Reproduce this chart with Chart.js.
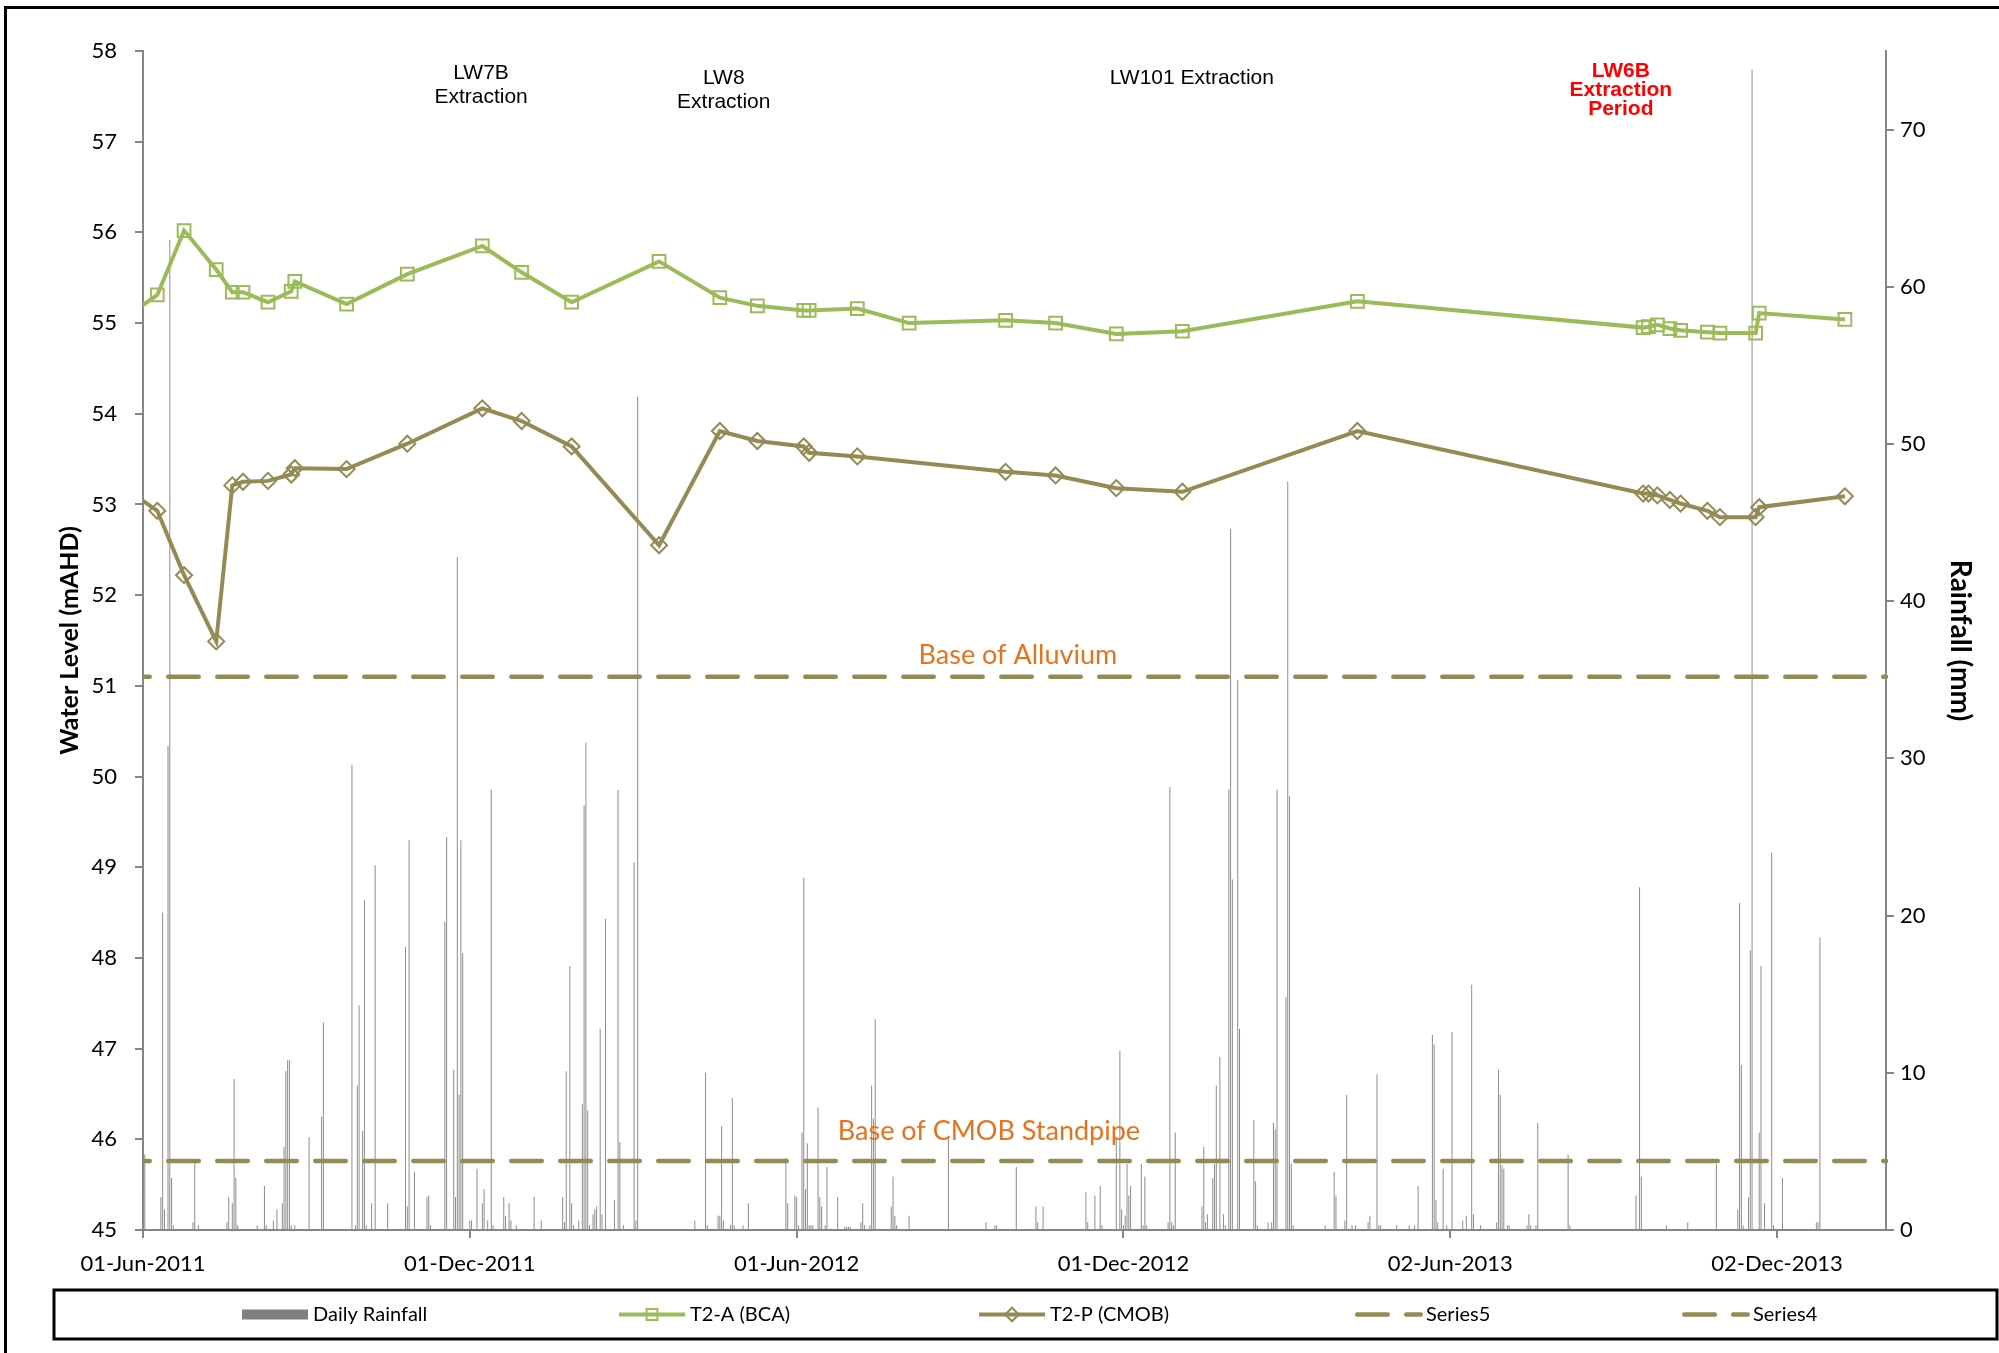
<!DOCTYPE html>
<html>
<head>
<meta charset="utf-8">
<title>T2 groundwater levels and daily rainfall</title>
<script src="https://cdn.jsdelivr.net/npm/chart.js@4.4.1/dist/chart.umd.min.js"></script>
<style>
  html, body { margin: 0; padding: 0; background: #ffffff; }
  #wrap { position: relative; width: 1999px; height: 1353px; overflow: hidden; background: #ffffff; }
  canvas { display: block; }
</style>
</head>
<body>
<div id="wrap"><canvas id="chart" width="1999" height="1353"></canvas></div>
<script>
// ---------------- data ----------------
const recordStart = '2011-06-01';   // day 0 of the rainfall record / x axis origin
const axisEnd = '2014-02-01';

const tickLabels = ['01-Jun-2011', '01-Dec-2011', '01-Jun-2012', '01-Dec-2012', '02-Jun-2013', '02-Dec-2013'];

// T2-A (BCA) water levels, mAHD
const datesBCA = ['2011-05-24', '2011-06-09', '2011-06-24', '2011-07-12', '2011-07-21', '2011-07-27',
  '2011-08-10', '2011-08-23', '2011-08-25', '2011-09-23', '2011-10-27', '2011-12-08', '2011-12-30',
  '2012-01-27', '2012-03-16', '2012-04-19', '2012-05-10', '2012-06-05', '2012-06-08', '2012-07-05',
  '2012-08-03', '2012-09-26', '2012-10-24', '2012-11-27', '2013-01-03', '2013-04-11', '2013-09-18',
  '2013-09-21', '2013-09-26', '2013-10-03', '2013-10-09', '2013-10-24', '2013-10-31', '2013-11-20',
  '2013-11-22', '2014-01-09'];
const levelBCA = [55.09, 55.31, 56.02, 55.59, 55.34, 55.34,
  55.23, 55.35, 55.46, 55.21, 55.54, 55.85, 55.56,
  55.23, 55.68, 55.28, 55.19, 55.14, 55.14, 55.16,
  55.00, 55.03, 55.00, 54.88, 54.91, 55.24, 54.95,
  54.96, 54.98, 54.94, 54.92, 54.90, 54.89, 54.89,
  55.11, 55.04];

// T2-P (CMOB) water levels, mAHD
const datesCMOB = ['2011-05-24', '2011-06-09', '2011-06-24', '2011-07-12', '2011-07-21', '2011-07-27',
  '2011-08-10', '2011-08-23', '2011-08-25', '2011-09-23', '2011-10-27', '2011-12-08', '2011-12-30',
  '2012-01-27', '2012-03-16', '2012-04-19', '2012-05-10', '2012-06-05', '2012-06-08', '2012-07-05',
  '2012-09-26', '2012-10-24', '2012-11-27', '2013-01-03', '2013-04-11', '2013-09-18',
  '2013-09-21', '2013-09-26', '2013-10-03', '2013-10-09', '2013-10-24', '2013-10-31', '2013-11-20',
  '2013-11-22', '2014-01-09'];
const levelCMOB = [53.15, 52.93, 52.22, 51.49, 53.21, 53.25,
  53.26, 53.33, 53.40, 53.39, 53.67, 54.06, 53.92,
  53.64, 52.55, 53.81, 53.70, 53.64, 53.57, 53.53,
  53.36, 53.32, 53.18, 53.14, 53.81, 53.12,
  53.12, 53.10, 53.05, 53.01, 52.93, 52.86, 52.86,
  52.97, 53.09];

// reference elevations, mAHD
const baseOfAlluvium = 51.10;   // Series5
const baseOfStandpipe = 45.76;  // Series4

// daily rainfall: day number counted from recordStart, and depth in mm
const rainDay = [
  0, 1, 10, 11, 12, 14, 15, 16, 17, 28,
  29, 31, 47, 48, 50, 51, 52, 53, 64, 68,
  69, 73, 75, 78, 79, 80, 81, 82, 83, 85,
  93, 100, 101, 117, 119, 120, 121, 123, 124, 125,
  128, 130, 137, 147, 148, 149, 152, 159, 160, 161,
  169, 170, 174, 175, 176, 177, 178, 179, 183, 184,
  187, 190, 191, 193, 195, 196, 202, 203, 205, 206,
  209, 219, 223, 235, 236, 237, 239, 240, 241, 244,
  246, 247, 248, 249, 250, 252, 253, 254, 256, 257,
  259, 264, 266, 267, 269, 275, 276, 277, 309, 315,
  316, 322, 323, 324, 325, 329, 330, 331, 336, 339,
  360, 361, 365, 366, 367, 369, 370, 371, 372, 373,
  374, 375, 378, 379, 380, 382, 383, 389, 393, 394,
  395, 396, 402, 403, 404, 407, 408, 409, 410, 419,
  420, 421, 422, 429, 451, 472, 477, 478, 489, 500,
  501, 504, 528, 529, 533, 536, 537, 545, 547, 548,
  549, 550, 551, 552, 553, 559, 560, 561, 562, 574,
  575, 576, 577, 578, 593, 594, 595, 596, 599, 600,
  601, 603, 605, 606, 608, 609, 610, 613, 614, 622,
  623, 624, 630, 632, 633, 634, 635, 640, 641, 642,
  643, 644, 662, 667, 668, 673, 674, 677, 679, 686,
  687, 691, 692, 693, 702, 709, 712, 714, 722, 723,
  724, 725, 728, 730, 733, 739, 741, 744, 745, 749,
  758, 759, 760, 761, 762, 764, 765, 775, 776, 777,
  780, 781, 798, 799, 836, 838, 839, 853, 865, 881,
  893, 894, 895, 896, 899, 900, 901, 905, 906, 908,
  912, 913, 918, 937, 938, 939];
const rainMm = [
  2.4, 4.8, 2.1, 20.2, 1.3, 30.8, 63.0, 3.3, 0.3, 0.5,
  4.4, 0.3, 0.5, 2.1, 1.7, 9.6, 3.3, 0.3, 0.3, 2.8,
  0.3, 0.6, 1.3, 1.7, 5.3, 10.1, 10.8, 10.8, 0.3, 0.3,
  5.9, 7.2, 13.2, 29.6, 0.3, 9.2, 14.3, 6.3, 21.0, 0.3,
  1.7, 23.2, 1.7, 18.0, 1.5, 24.8, 3.7, 2.1, 2.2, 0.3,
  19.6, 25.0, 10.2, 2.1, 42.8, 8.6, 24.8, 17.6, 0.6, 0.6,
  3.9, 1.7, 2.6, 0.6, 28.0, 0.3, 2.1, 0.9, 1.7, 0.6,
  0.3, 2.1, 0.6, 2.1, 0.5, 10.1, 16.8, 1.7, 0.3, 0.6,
  8.0, 27.0, 31.0, 7.6, 0.3, 1.0, 1.3, 1.5, 12.8, 1.0,
  19.8, 1.9, 28.0, 5.6, 0.3, 23.4, 0.6, 53.0, 0.6, 10.0,
  0.3, 0.9, 0.9, 6.6, 0.6, 0.3, 8.4, 0.3, 0.3, 1.7,
  4.6, 1.7, 2.2, 2.1, 0.3, 6.2, 22.4, 2.6, 5.5, 0.3,
  0.3, 0.3, 7.8, 2.1, 1.5, 0.3, 4.0, 2.1, 0.2, 0.2,
  0.2, 0.2, 0.5, 1.7, 0.3, 0.3, 9.2, 7.1, 13.4, 1.5,
  3.4, 0.9, 0.3, 0.9, 6.0, 0.5, 0.3, 0.3, 4.0, 1.5,
  0.5, 1.5, 2.4, 0.5, 2.2, 2.8, 0.3, 5.9, 11.4, 1.3,
  0.3, 0.9, 4.2, 2.2, 2.8, 4.2, 0.3, 3.4, 0.3, 0.5,
  28.2, 0.5, 0.3, 6.2, 1.5, 5.3, 0.5, 1.0, 3.3, 4.2,
  9.2, 11.0, 1.0, 0.3, 28.0, 44.6, 22.3, 35.0, 12.8, 7.0,
  3.1, 0.3, 0.5, 0.5, 6.8, 6.4, 28.0, 14.8, 47.6, 27.6,
  4.2, 0.3, 0.3, 3.7, 2.2, 0.6, 8.6, 0.3, 0.3, 0.5,
  0.9, 9.9, 0.3, 0.3, 0.3, 0.3, 0.3, 2.8, 12.4, 11.8,
  1.9, 0.5, 3.9, 0.3, 12.6, 0.6, 0.9, 15.6, 1.0, 0.3,
  0.5, 10.2, 8.6, 4.1, 3.9, 0.3, 0.3, 0.3, 1.0, 0.3,
  0.3, 6.8, 4.8, 0.3, 2.2, 21.8, 3.4, 0.3, 0.5, 4.2,
  1.3, 20.8, 10.5, 0.3, 2.1, 17.8, 73.8, 6.2, 16.8, 1.7,
  24.0, 0.3, 3.3, 0.5, 0.5, 18.6];

// ---------------- helpers ----------------
const DAY_MS = 86400000;
const MONTHS = { Jan: 0, Feb: 1, Mar: 2, Apr: 3, May: 4, Jun: 5, Jul: 6, Aug: 7, Sep: 8, Oct: 9, Nov: 10, Dec: 11 };
function utcOfIso(iso) {
  const [y, m, d] = iso.split('-').map(Number);
  return Date.UTC(y, m - 1, d);
}
const originUtc = utcOfIso(recordStart);
const dayOf = iso => (utcOfIso(iso) - originUtc) / DAY_MS;
const dayOfLabel = lbl => {
  const [d, mon, y] = lbl.split('-');
  return (Date.UTC(+y, MONTHS[mon], +d) - originUtc) / DAY_MS;
};

const xMin = 0;
const xMax = dayOf(axisEnd);
const tickDays = tickLabels.map(dayOfLabel);

const GREEN = '#9BBB59';
const OLIVE = '#948A54';
const AXIS_GREY = '#868686';
const TICK_FONT = { family: 'Lato', size: 22 };

// ---------------- text notes and legend painter ----------------
const notes = [
  { lines: ['LW7B', 'Extraction'], day: 189.3, level: 57.69, step: 24, font: '21px "Liberation Sans"', color: '#000000' },
  { lines: ['LW8', 'Extraction'], day: 325.2, level: 57.636, step: 24, font: '21px "Liberation Sans"', color: '#000000' },
  { lines: ['LW101 Extraction'], day: 587.3, level: 57.636, step: 24, font: '21px "Liberation Sans"', color: '#000000' },
  { lines: ['LW6B', 'Extraction', 'Period'], day: 827.5, level: 57.713, step: 19, font: 'bold 21px "Liberation Sans"', color: '#FF0000' },
  { lines: ['Base of Alluvium'], day: 489.9, level: 51.24, step: 0, font: '27px Lato', color: '#E8721C' },
  { lines: ['Base of CMOB Standpipe'], day: 473.7, level: 45.99, step: 0, font: '27px Lato', color: '#E8721C' }
];
const leftAxisTitle = 'Water Level (mAHD)';

const decorPlugin = {
  id: 'decor',
  afterDraw(chart) {
    const { ctx, chartArea } = chart;
    const xs = chart.scales.x, ys = chart.scales.y;
    ctx.save();

    // page frame (left and top edges)
    ctx.strokeStyle = '#000000';
    ctx.lineWidth = 3;
    ctx.beginPath();
    ctx.moveTo(5.5, 1353);
    ctx.lineTo(5.5, 7.5);
    ctx.lineTo(1999, 7.5);
    ctx.stroke();

    // primary axis title, rotated, centred on the plot height
    ctx.save();
    ctx.translate(64, (chartArea.top + chartArea.bottom) / 2);
    ctx.rotate(-Math.PI / 2);
    ctx.font = 'bold 25px Lato';
    ctx.fillStyle = '#000000';
    ctx.textAlign = 'center';
    ctx.textBaseline = 'alphabetic';
    ctx.fillText(leftAxisTitle, 0, 14);
    ctx.restore();

    // text notes placed in data space
    ctx.textAlign = 'center';
    ctx.textBaseline = 'alphabetic';
    notes.forEach(n => {
      const px = xs.getPixelForValue(n.day);
      const py = ys.getPixelForValue(n.level);
      ctx.font = n.font;
      ctx.fillStyle = n.color;
      n.lines.forEach((t, i) => ctx.fillText(t, px, py + i * n.step));
    });

    // legend box
    const box = { left: 54, top: 1290, right: 1997, bottom: 1339 };
    const cy = (box.top + box.bottom) / 2;
    ctx.lineWidth = 3;
    ctx.strokeStyle = '#000000';
    ctx.strokeRect(box.left, box.top, box.right - box.left, box.bottom - box.top);

    const slots = [242, 619, 979, 1355, 1682];
    const symW = 68;
    ctx.font = '20px Lato';
    ctx.textAlign = 'left';
    ctx.textBaseline = 'middle';
    chart.data.datasets.forEach((ds, i) => {
      const x0 = slots[i];
      if (ds.type === 'bar') {
        ctx.fillStyle = '#808080';
        ctx.fillRect(x0, cy - 5, symW - 2, 10);
      } else {
        ctx.save();
        ctx.strokeStyle = ds.borderColor;
        ctx.lineWidth = ds.borderWidth;
        ctx.lineCap = ds.borderCapStyle || 'butt';
        const dashed = !!ds.borderDash;
        if (dashed) {
          ctx.setLineDash(ds.borderDash);
          ctx.lineDashOffset = 0;
        }
        ctx.beginPath();
        ctx.moveTo(x0 + (dashed ? 2.25 : 0), cy);
        ctx.lineTo(x0 + symW - (dashed ? 2.25 : 2), cy);
        ctx.stroke();
        ctx.restore();
        if (ds.pointRadius > 0) {
          ctx.save();
          ctx.strokeStyle = ds.pointBorderColor;
          ctx.lineWidth = ds.pointBorderWidth;
          ctx.beginPath();
          const r = ds.pointRadius * 0.85;
          const mx = x0 + symW / 2 - 1;
          if (ds.pointStyle === 'rect') {
            const h = r * Math.SQRT1_2;
            ctx.rect(mx - h, cy - h, 2 * h, 2 * h);
          } else {
            ctx.moveTo(mx - r, cy); ctx.lineTo(mx, cy - r); ctx.lineTo(mx + r, cy); ctx.lineTo(mx, cy + r); ctx.closePath();
          }
          ctx.stroke();
          ctx.restore();
        }
      }
      ctx.fillStyle = '#000000';
      ctx.fillText(ds.label, x0 + symW + 3, cy);
    });

    ctx.restore();
  }
};

// ---------------- chart ----------------
const rainPoints = rainDay.map((d, i) => ({ x: d, y: rainMm[i] }));
const bcaPoints = datesBCA.map((d, i) => ({ x: dayOf(d), y: levelBCA[i] }));
const cmobPoints = datesCMOB.map((d, i) => ({ x: dayOf(d), y: levelCMOB[i] }));
const levelLine = v => [{ x: xMin, y: v }, { x: xMax, y: v }];
const seriesClip = { left: 0, right: 20, top: 20, bottom: 20 };

Chart.defaults.color = '#000000';

new Chart(document.getElementById('chart'), {
  type: 'line',
  data: {
    datasets: [
      {
        type: 'bar', label: 'Daily Rainfall', data: rainPoints, yAxisID: 'y1',
        backgroundColor: '#8c8c8c', borderWidth: 0, barThickness: 1, inflateAmount: 0, order: 10
      },
      {
        label: 'T2-A (BCA)', data: bcaPoints, yAxisID: 'y',
        borderColor: GREEN, borderWidth: 4, tension: 0,
        pointStyle: 'rect', pointRadius: 9, pointBorderWidth: 2,
        pointBorderColor: GREEN, pointBackgroundColor: 'rgba(0,0,0,0)',
        clip: seriesClip, order: 1
      },
      {
        label: 'T2-P (CMOB)', data: cmobPoints, yAxisID: 'y',
        borderColor: OLIVE, borderWidth: 4, tension: 0,
        pointStyle: 'rectRot', pointRadius: 8, pointBorderWidth: 2,
        pointBorderColor: OLIVE, pointBackgroundColor: 'rgba(0,0,0,0)',
        clip: seriesClip, order: 2
      },
      {
        label: 'Series5', data: levelLine(baseOfAlluvium), yAxisID: 'y',
        borderColor: OLIVE, borderWidth: 4.5, borderDash: [30.5, 18.5], borderDashOffset: 23.75,
        borderCapStyle: 'round', pointRadius: 0, clip: seriesClip, order: 3
      },
      {
        label: 'Series4', data: levelLine(baseOfStandpipe), yAxisID: 'y',
        borderColor: OLIVE, borderWidth: 4.5, borderDash: [30.5, 18.5], borderDashOffset: 23.75,
        borderCapStyle: 'round', pointRadius: 0, clip: seriesClip, order: 4
      }
    ]
  },
  options: {
    responsive: false,
    animation: false,
    events: [],
    layout: { padding: { left: 0, right: 0, top: 51, bottom: 73 } },
    plugins: { legend: { display: false }, tooltip: { enabled: false } },
    scales: {
      x: {
        type: 'linear', min: xMin, max: xMax, offset: false,
        afterBuildTicks: s => { s.ticks = tickDays.map(v => ({ value: v })); },
        afterFit: s => { s.height = 50; },
        ticks: {
          autoSkip: false, maxRotation: 0, minRotation: 0, padding: 13,
          font: TICK_FONT, color: '#000000',
          callback: (v) => tickLabels[tickDays.indexOf(v)]
        },
        grid: { offset: false, drawOnChartArea: false, drawTicks: true, tickLength: 8, color: AXIS_GREY, lineWidth: 2 },
        border: { color: AXIS_GREY, width: 2 }
      },
      y: {
        position: 'left', min: 45, max: 58,
        afterFit: s => { s.width = 143; },
        ticks: { stepSize: 1, padding: 18, font: TICK_FONT, color: '#000000' },
        grid: { drawOnChartArea: false, drawTicks: true, tickLength: 8, color: AXIS_GREY, lineWidth: 2 },
        border: { color: AXIS_GREY, width: 2 },
        title: { display: false }
      },
      y1: {
        position: 'right', min: 0, max: 75,
        afterFit: s => { s.width = 113; },
        ticks: { stepSize: 10, includeBounds: false, padding: 6, font: TICK_FONT, color: '#000000' },
        grid: { drawOnChartArea: false, drawTicks: true, tickLength: 8, color: AXIS_GREY, lineWidth: 2 },
        border: { color: AXIS_GREY, width: 2 },
        title: {
          display: true, text: 'Rainfall (mm)', color: '#000000',
          font: { family: 'Lato', size: 28, weight: 'bold' }, padding: { top: 22, bottom: 0 }
        }
      }
    }
  },
  plugins: [decorPlugin]
});
</script>
</body>
</html>
